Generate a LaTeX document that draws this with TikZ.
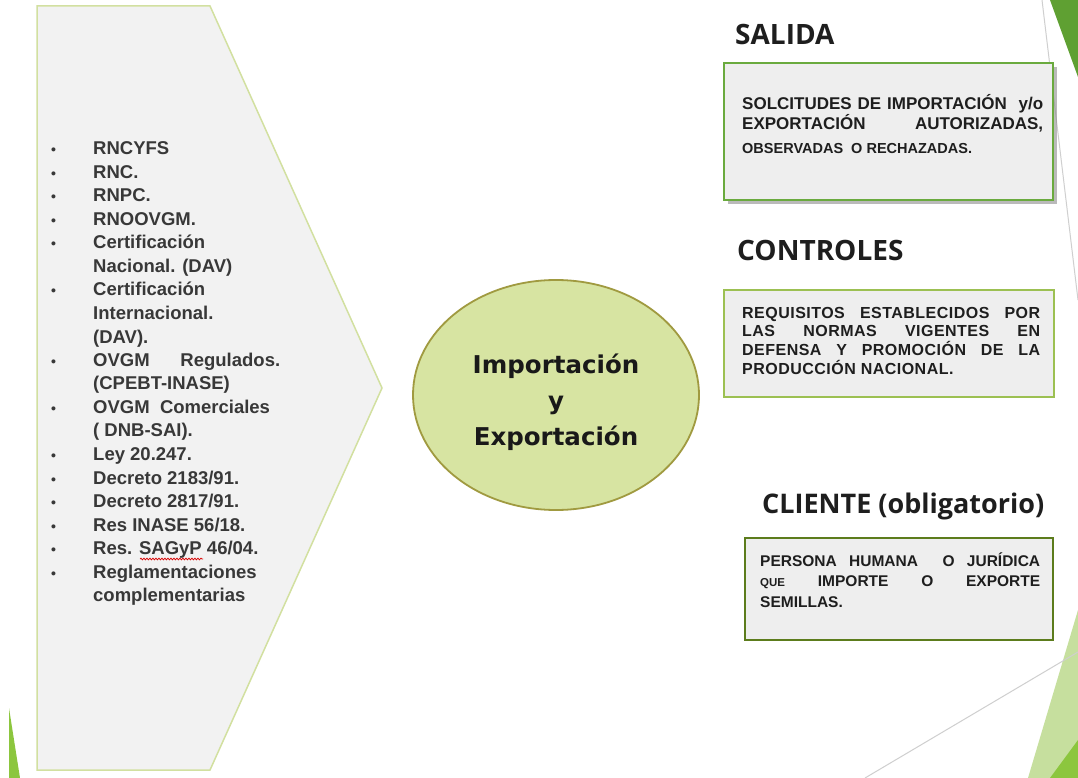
\documentclass[tikz,border=0pt]{standalone}
\usepackage{fontspec}
\setmainfont{Liberation Sans}
\newfontfamily\headfont{Open Sans}
\newfontfamily\ellfont{DejaVu Sans}
\newfontfamily\spacedB{Liberation Sans}[LetterSpace=3]
\usetikzlibrary{shapes.geometric,shadows,decorations.pathmorphing}
\definecolor{chevfill}{HTML}{F2F2F2}
\definecolor{chevline}{HTML}{D2E0A0}
\definecolor{ellfill}{HTML}{D7E4A2}
\definecolor{ellline}{HTML}{A09A40}
\definecolor{salline}{HTML}{6AAA3E}
\definecolor{ctlline}{HTML}{9CC052}
\definecolor{cliline}{HTML}{5C7C1C}
\definecolor{boxfill}{HTML}{EEEEEE}
\definecolor{txtdark}{HTML}{1E1E1E}
\definecolor{listtxt}{HTML}{383838}
\definecolor{decodark}{HTML}{5FA032}
\definecolor{decolight}{HTML}{C6DF9E}
\definecolor{decomid}{HTML}{8CC63E}
\definecolor{decoline}{HTML}{CFCFCF}
\newcommand\lbul{\makebox[53pt][l]{\hspace{11pt}\fontsize{14}{14}\selectfont\textbullet}}
\newcommand\lnob{\hspace*{53pt}}
\begin{document}
\begin{tikzpicture}[x=1pt,y=-1pt,
  chev/.style={fill=chevfill, draw=chevline, line width=1.5pt, line join=miter},
  listnode/.style={inner sep=0pt, anchor=base west, text=listtxt},
  ellnode/.style={ellipse, fill=ellfill, draw=ellline, line width=1.8pt,
    minimum width=286pt, minimum height=230pt, inner sep=0pt},
  elltext/.style={align=center, inner sep=0pt,
    font=\ellfont\bfseries\fontsize{24.5}{36}\selectfont, text=black!90},
  head/.style={inner sep=0pt, anchor=base west,
    font=\headfont\bfseries\fontsize{28}{32}\selectfont, text=txtdark},
  panel/.style={anchor=north west, inner sep=0pt, outer sep=0pt, fill=boxfill, line width=2.5pt},
  boxtxt/.style={inner sep=0pt, anchor=base west, text=txtdark}]
\useasboundingbox (0,0) rectangle (1078,778);
\fill[white] (0,0) rectangle (1078,778);
% decorations
\fill[decodark] (1050,0) -- (1078,0) -- (1078,77) -- cycle;
\draw[decoline, line width=1pt] (1042,0) -- (1078,300);
\fill[decolight] (1078,610) -- (1028,778) -- (1078,778) -- cycle;
\fill[decomid] (1050,778) -- (1078,740) -- (1078,778) -- cycle;
\draw[decoline, line width=1pt] (865,778) -- (1078,652);
\fill[decomid] (9,708) -- (9,778) -- (20,778) -- cycle;
% chevron
\draw[chev] (37,6) -- (210,6) -- (382,388) -- (210,770) -- (37,770) -- cycle;
% list
\node[listnode] (reqs) at (40,155) {\parbox[t]{260pt}{\fontsize{18.5}{23.5}\selectfont\bfseries
\lbul RNCYFS\\
\lbul RNC.\\
\lbul RNPC.\\
\lbul RNOOVGM.\\
\lbul Certificación\\
\lnob Nacional. (DAV)\\
\lbul Certificación\\
\lnob Internacional.\\
\lnob (DAV).\\
\lbul \makebox[187pt][s]{OVGM Regulados.}\\
\lnob (CPEBT-INASE)\\
\lbul OVGM\ \ Comerciales\\
\lnob ( DNB-SAI).\\
\lbul Ley 20.247.\\
\lbul Decreto 2183/91.\\
\lbul Decreto 2817/91.\\
\lbul Res INASE 56/18.\\
\lbul Res. SAGyP 46/04.\\
\lbul Reglamentaciones\\
\lnob complementarias}};
\draw[red!85!black, line width=0.7pt, decorate, decoration={snake, amplitude=0.9pt, segment length=3pt}] (140,559) -- (203,559);
% ellipse
\node[ellnode] (imp) at (556,395) {};
\node[elltext] (impt) at (556,402.5) {Importación\\y\\Exportación};
% headings
\node[head] (sal) at (735,45) {SALIDA};
\node[head] (ctl) at (737,260) {CONTROLES};
\node[head, font=\headfont\bfseries\fontsize{27}{32}\selectfont] (cli) at (762,513) {CLIENTE (obligatorio)};
% boxes
\node[panel, draw=salline, minimum width=329pt, minimum height=137pt,
  drop shadow={shadow xshift=4pt, shadow yshift=-4pt, fill=black!45, opacity=.6}] (salb) at (724,63) {};
\node[panel, draw=ctlline, minimum width=330pt, minimum height=107pt] (ctlb) at (724,290) {};
\node[panel, draw=cliline, minimum width=308pt, minimum height=102pt] (clib) at (745,538) {};
% box texts
\node[boxtxt] (salt) at (742,110) {\parbox[t]{301pt}{\fontsize{17}{20}\selectfont\bfseries
\makebox[301pt][s]{SOLCITUDES DE IMPORTACIÓN\ \ y/o}\\
\makebox[301pt][s]{EXPORTACIÓN AUTORIZADAS,}\\[4pt]
{\fontsize{14.5}{19}\selectfont OBSERVADAS\ \ O RECHAZADAS.}}};
\node[boxtxt] (ctlt) at (742,318) {\parbox[t]{298pt}{\fontsize{16}{18.8}\selectfont\spacedB\bfseries
\makebox[298pt][s]{REQUISITOS ESTABLECIDOS POR}\\
\makebox[298pt][s]{LAS NORMAS VIGENTES EN}\\
\makebox[298pt][s]{DEFENSA Y PROMOCIÓN DE LA}\\
PRODUCCIÓN NACIONAL.}};
\node[boxtxt] (clit) at (760,566) {\parbox[t]{280pt}{\fontsize{15.5}{20.5}\selectfont\bfseries
\makebox[280pt][s]{PERSONA HUMANA\ \ O JURÍDICA}\\
\makebox[280pt][s]{{\fontsize{11.5}{10}\selectfont QUE} IMPORTE O EXPORTE}\\
SEMILLAS.}};
\end{tikzpicture}
\end{document}
